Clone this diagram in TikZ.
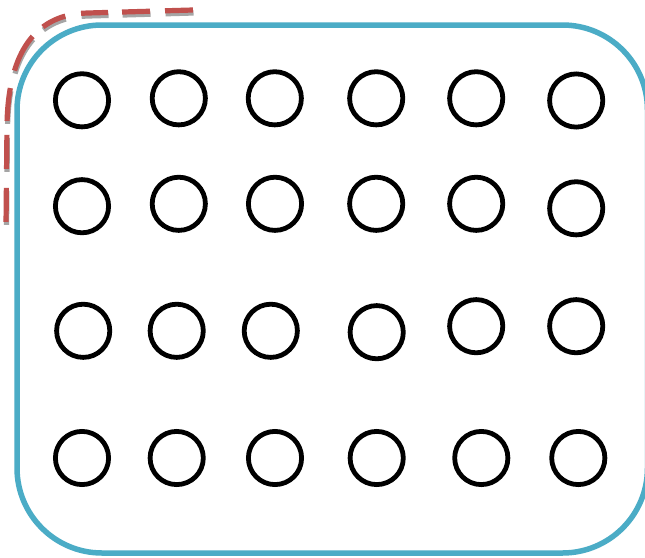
\documentclass[tikz,border=0pt]{standalone}
\begin{document}
\begin{tikzpicture}[x=1pt,y=-1pt,
  ring/.style={circle,draw=black,line width=4.8pt,minimum size=53.2pt,inner sep=0pt,fill=none},
  frame/.style={draw=framecol,line width=5.5pt,rounded corners=85pt},
  dashpat/.style={dash pattern=on 28pt off 15pt on 28pt off 14pt on 27pt off 16pt on 25pt off 14pt on 39pt off 18pt on 33pt off 14pt on 34pt off 19pt on 34pt off 30pt},
  dashline/.style={draw=dashcol,line width=5.2pt,dashpat},
  shadowline/.style={draw=shadowcol,line width=5.2pt,dashpat}]
\definecolor{framecol}{RGB}{75,172,198}
\definecolor{dashcol}{RGB}{192,80,77}
\definecolor{shadowcol}{RGB}{165,165,165}
\useasboundingbox (0,0) rectangle (645,557);
\fill[white] (0,0) rectangle (645,557);
% frame
\draw[frame] (17,25) rectangle (647.5,553);
% dashed corner line with shadow
\begin{scope}[shift={(0.5,3)}]
\draw[shadowline] (193,10) -- (88,13) .. controls (30,14) and (8,60) .. (7,125) -- (6,226);
\end{scope}
\draw[dashline] (193,10) -- (88,13) .. controls (30,14) and (8,60) .. (7,125) -- (6,226);
% rings
\node[ring] (a1) at (82,100.3) {};
\node[ring] (a2) at (178.8,98.3) {};
\node[ring] (a3) at (274.8,98.3) {};
\node[ring] (a4) at (376.2,98.3) {};
\node[ring] (a5) at (476.2,98.3) {};
\node[ring] (a6) at (576.2,100.5) {};
\node[ring] (b1) at (82,206.2) {};
\node[ring] (b2) at (178.8,203.8) {};
\node[ring] (b3) at (275,203.8) {};
\node[ring] (b4) at (376.2,203.8) {};
\node[ring] (b5) at (476.2,203.8) {};
\node[ring] (b6) at (576.2,208.3) {};
\node[ring] (c1) at (83.2,330.8) {};
\node[ring] (c2) at (176.7,330.8) {};
\node[ring] (c3) at (270.8,330.8) {};
\node[ring] (c4) at (376.7,332.2) {};
\node[ring] (c5) at (476.2,326.2) {};
\node[ring] (c6) at (576.2,326.2) {};
\node[ring] (d1) at (82,458) {};
\node[ring] (d2) at (176.7,458) {};
\node[ring] (d3) at (275,458) {};
\node[ring] (d4) at (376.7,458) {};
\node[ring] (d5) at (481.3,458) {};
\node[ring] (d6) at (578.3,458) {};
\end{tikzpicture}
\end{document}
